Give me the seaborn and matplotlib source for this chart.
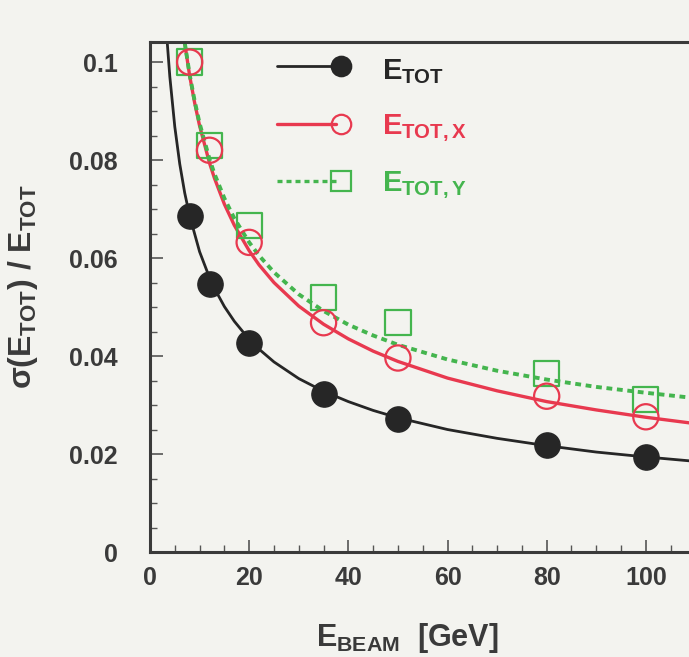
import matplotlib
matplotlib.use("Agg")
import matplotlib.pyplot as plt
from matplotlib.ticker import MultipleLocator, FuncFormatter
import seaborn as sns

# ----------------------------
# data
# ----------------------------
beam = [8, 12, 20, 35, 50, 80, 100]
res_tot = [0.0686, 0.0547, 0.0427, 0.0322, 0.0272, 0.0218, 0.0193]
res_x = [0.1000, 0.0820, 0.0632, 0.0468, 0.0396, 0.0318, 0.0276]
res_y = [0.1000, 0.0830, 0.0667, 0.0520, 0.0468, 0.0365, 0.0312]

# fitted curves
fit_x_tot = [3.5, 4, 5, 6, 7, 8, 10, 12, 13, 15, 17, 20, 22, 25, 30, 35, 40, 45, 50,
             60, 70, 80, 90, 100, 110]
fit_tot = [0.1037, 0.0970, 0.0868, 0.0792, 0.0733, 0.0686, 0.0613, 0.0560, 0.0538,
           0.0501, 0.0471, 0.0434, 0.0414, 0.0388, 0.0354, 0.0328, 0.0307, 0.0289,
           0.0274, 0.0250, 0.0232, 0.0217, 0.0204, 0.0194, 0.0185]
fit_x_xy = [7, 8, 9, 10, 12, 13, 15, 17, 20, 22, 25, 30, 35, 40, 45, 50, 60, 70, 80,
            90, 100, 110]
fit_x = [0.1039, 0.0972, 0.0917, 0.0870, 0.0794, 0.0763, 0.0710, 0.0667, 0.0615,
         0.0586, 0.0550, 0.0502, 0.0465, 0.0435, 0.0410, 0.0389, 0.0355, 0.0329,
         0.0307, 0.0290, 0.0275, 0.0262]
fit_y = [0.1040, 0.0974, 0.0921, 0.0875, 0.0802, 0.0772, 0.0722, 0.0681, 0.0632,
         0.0605, 0.0571, 0.0526, 0.0492, 0.0464, 0.0442, 0.0423, 0.0393, 0.0370,
         0.0352, 0.0337, 0.0325, 0.0314]

BLACK = "#262626"
RED = "#e8394f"
GREEN = "#44b54e"
BG = "#f3f3ef"
TXT = "#3a3a3a"

sns.set_style("ticks")
plt.rcParams["font.family"] = ["Liberation Sans", "DejaVu Sans"]
plt.rcParams["font.weight"] = "bold"
plt.rcParams["mathtext.fontset"] = "custom"
plt.rcParams["mathtext.rm"] = "Liberation Sans:bold"
plt.rcParams["mathtext.it"] = "Liberation Sans:bold"
plt.rcParams["mathtext.bf"] = "Liberation Sans:bold"

fig = plt.figure(figsize=(6.89, 6.57), dpi=100, facecolor=BG)
ax = fig.add_axes([150 / 689, 1 - 552 / 657, 1 - 150 / 689, 510 / 657])
ax.set_facecolor(BG)

# curves
sns.lineplot(x=fit_x_tot, y=fit_tot, ax=ax, color=BLACK, lw=2.0, sort=False)
sns.lineplot(x=fit_x_xy, y=fit_x, ax=ax, color=RED, lw=2.4, sort=False)
sns.lineplot(x=fit_x_xy, y=fit_y, ax=ax, color=GREEN, lw=2.8, sort=False,
             linestyle=(0, (1.5, 1.2)))

# points
ax.scatter(beam, res_y, s=330, marker="s", facecolors="none", edgecolors=GREEN,
           linewidths=1.6, zorder=3)
ax.scatter(beam, res_x, s=330, marker="o", facecolors="none", edgecolors=RED,
           linewidths=1.6, zorder=4)
ax.scatter(beam, res_tot, s=330, marker="o", color=BLACK, zorder=5)

ax.set_xlim(0, 108.7)
ax.set_ylim(0, 0.1041)
ax.xaxis.set_major_locator(MultipleLocator(20))
ax.xaxis.set_minor_locator(MultipleLocator(5))
ax.yaxis.set_major_locator(MultipleLocator(0.02))
ax.yaxis.set_minor_locator(MultipleLocator(0.005))
ax.yaxis.set_major_formatter(FuncFormatter(lambda v, p: "%g" % round(v, 3)))
ax.tick_params(which="both", direction="in", colors="#555555", labelcolor=TXT,
               labelsize=18)
ax.tick_params(axis="y", pad=23)
ax.tick_params(axis="x", pad=10)
ax.tick_params(which="major", length=9, width=1.2)
ax.tick_params(which="minor", length=5, width=1.0)
for lab in ax.get_xticklabels() + ax.get_yticklabels():
    lab.set_fontweight("bold")

for side in ["left", "bottom", "top"]:
    ax.spines[side].set_color("#3a3a3a")
    ax.spines[side].set_linewidth(2.2)
ax.spines["right"].set_visible(False)

ax.set_xlabel(r"$E_{BEAM}$  [GeV]", fontsize=22, color=TXT, fontweight="bold")
ax.xaxis.set_label_coords(0.478, -0.135)
ax.set_ylabel(r"$\sigma(E_{TOT})$ / $E_{TOT}$", fontsize=23, color=TXT,
              fontweight="bold")
ax.yaxis.set_label_coords(-0.205, 0.52)

# legend
rows = [(BLACK, "-", "o", BLACK, r"$E_{TOT}$"),
        (RED, "-", "o", "none", r"$E_{TOT,X}$"),
        (GREEN, (0, (1.5, 1.2)), "s", "none", r"$E_{TOT,Y}$")]
for i, (c, ls, mk, fc, lab) in enumerate(rows):
    yy = 0.952 - i * 0.112
    ax.plot([0.235, 0.345], [yy, yy], transform=ax.transAxes, color=c, ls=ls,
            lw=2.4 if i else 2.0)
    ax.plot([0.355], [yy], transform=ax.transAxes, marker=mk, ms=14,
            mfc=fc, mec=c, mew=1.6, ls="none")
    ax.text(0.43, yy - 0.01, lab, transform=ax.transAxes, color=c, fontsize=21,
            va="center", ha="left")

fig.savefig("out.png", dpi=100, facecolor=BG)
